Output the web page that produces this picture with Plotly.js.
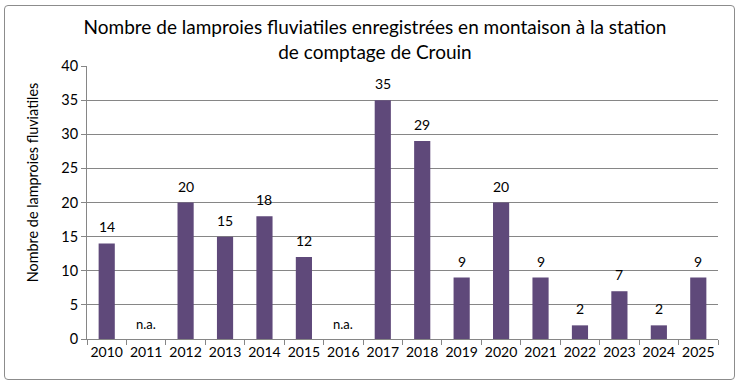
<!DOCTYPE html>
<html>
<head>
<meta charset="utf-8">
<script src="https://cdn.plot.ly/plotly-3.0.1.min.js"></script>
<style>
html,body{margin:0;padding:0;background:#fff;}
#wrap{position:relative;width:741px;height:387px;}
#chart{width:741px;height:387px;}
#frame{position:absolute;left:4px;top:5px;width:731px;height:375px;border:1px solid #8c8c8c;border-radius:4px;pointer-events:none;box-sizing:border-box;}
</style>
</head>
<body>
<div id="wrap"><div id="chart"></div><div id="frame"></div></div>
<script>
const years = ['2010','2011','2012','2013','2014','2015','2016','2017','2018','2019','2020','2021','2022','2023','2024','2025'];
const counts = [14, null, 20, 15, 18, 12, null, 35, 29, 9, 20, 9, 2, 7, 2, 9];
const naLabel = 'n.a.';
const yTicks = [0, 5, 10, 15, 20, 25, 30, 35, 40];
const yTitle = 'Nombre de lamproies fluviatiles';

const fontFam = 'Lato, "Open Sans", sans-serif';
const annotations = years.map((yr, i) => {
  const v = counts[i];
  const isNa = (v === null);
  return {x: i, y: isNa ? 0 : v, xref: 'x', yref: 'y', text: isNa ? naLabel : String(v),
          showarrow: false, yanchor: 'bottom', yshift: isNa ? 5 : 6,
          font: {family: fontFam, size: isNa ? 13 : 14, color: '#000'}};
});
annotations.push({
  text: yTitle, xref: 'paper', yref: 'paper', x: -0.087, y: 0.571,
  xanchor: 'center', yanchor: 'middle', textangle: -90, showarrow: false,
  font: {family: fontFam, size: 14.4, color: '#000'}
});

const trace = {
  type: 'bar', x: years, y: counts,
  marker: {color: '#5F497A'},
  hoverinfo: 'x+y'
};

const layout = {
  width: 741, height: 387,
  margin: {l: 87, r: 23, t: 66, b: 48},
  paper_bgcolor: '#fff', plot_bgcolor: '#fff',
  font: {family: fontFam, color: '#000'},
  bargap: 0.59,
  showlegend: false,
  title: {
    text: 'Nombre de lamproies fluviatiles enregistrées en montaison à la station<br>de comptage de Crouin',
    font: {family: fontFam, size: 19, color: '#000'},
    x: 0.506, xref: 'container', xanchor: 'center',
    y: 0.912, yref: 'container', yanchor: 'top'
  },
  xaxis: {
    type: 'category', range: [-0.5, years.length - 0.5], tickson: 'boundaries', ticks: 'outside', ticklen: 5,
    tickcolor: '#868686', showline: true, linecolor: '#868686', linewidth: 1,
    showgrid: false, tickangle: 0, tickfont: {family: fontFam, size: 14, color: '#000'}
  },
  yaxis: {
    range: [0, 40], tickvals: yTicks, ticks: 'outside', ticklen: 5,
    tickcolor: '#868686', showline: true, linecolor: '#868686',
    showgrid: true, gridcolor: '#868686', gridwidth: 1, zeroline: false,
    tickfont: {family: fontFam, size: 14.5, color: '#000'}
  },
  annotations: annotations
};

Plotly.newPlot('chart', [trace], layout, {displayModeBar: false, staticPlot: true});
</script>
</body>
</html>
